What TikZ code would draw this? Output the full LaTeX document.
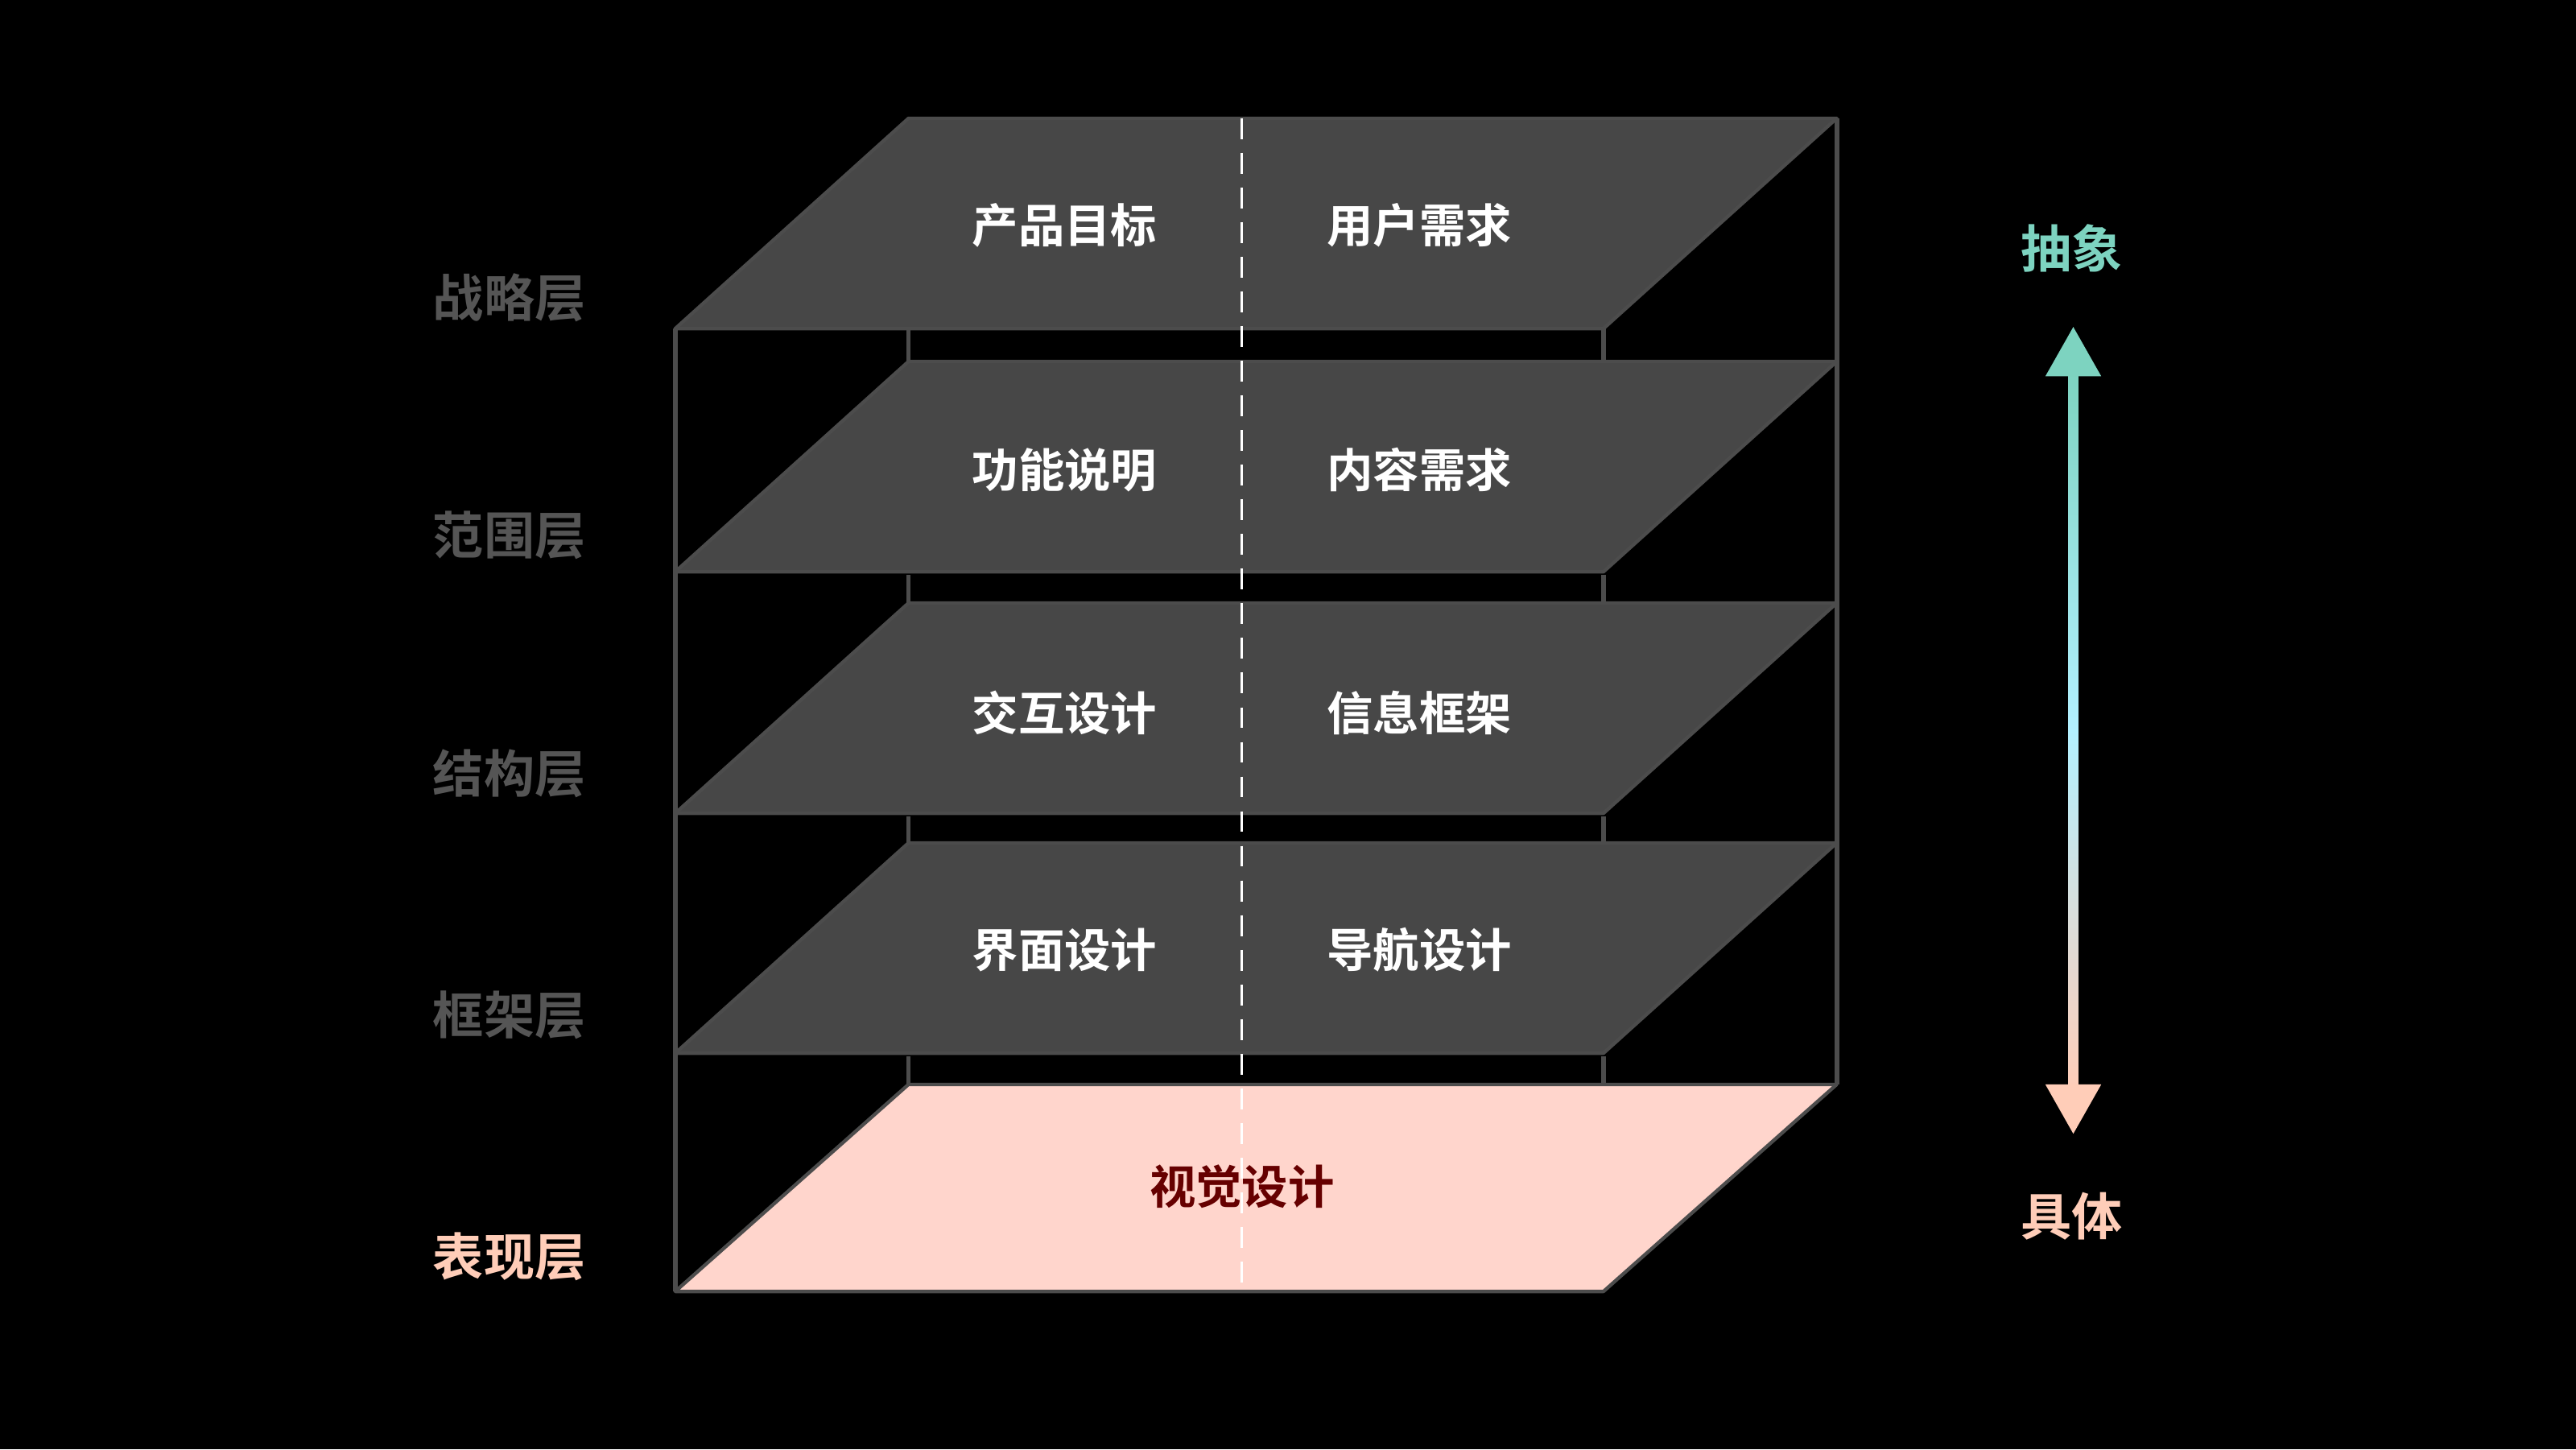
\documentclass[tikz,border=0pt]{standalone}
\usepackage{fontspec}
\newfontfamily\cjk{Noto Sans CJK SC Bold}
\begin{document}
\begin{tikzpicture}[x=0.1cm,y=-0.1cm,
  frame/.style={draw=black!70!white,line width=8pt},
  plane/.style={fill=pl,draw=black!70!white,line width=6pt,line join=round},
  pt/.style={font=\cjk\fontsize{80}{80}\selectfont,text=white},
  side/.style={font=\cjk\fontsize{88}{88}\selectfont,text=lab}]
\definecolor{pl}{HTML}{474747}
\definecolor{lab}{HTML}{555555}
\definecolor{pk}{HTML}{FFD5CC}
\definecolor{tl}{HTML}{7DD3C0}
\fill[black] (0,0) rectangle (1568,882);
\useasboundingbox (0,0) rectangle (1568,882);
% frame
\coordinate (fl) at (411,200); \coordinate (flb) at (411,786);
\coordinate (br) at (1118,72); \coordinate (brb) at (1118,660);
\draw[frame] (fl) -- (flb);
\draw[frame] (br) -- (brb);
\foreach \y in {200,350,497,643}{
  \draw[frame] (553,\y) -- (553,\y+20);
  \draw[frame] (976,\y) -- (976,\y+20);
}
% planes
\foreach \t/\n in {72/p1,220/p2,367/p3,513/p4}{
  \draw[plane] (553,\t) -- (1118,\t) -- (976,\t+128) -- (411,\t+128) -- cycle;
}
\draw[plane,fill=pk] (553,660) -- (1118,660) -- (976,786) -- (411,786) -- cycle;
\coordinate (dt) at (756,72); \coordinate (db) at (756,786);
\draw[white,line width=4pt,dash pattern=on 36pt off 24pt] (dt) -- (db);
% plane texts
\node[pt] (a1) at (648,137) {产品目标}; \node[pt] (b1) at (864,137) {用户需求};
\node[pt] (a2) at (648,286) {功能说明}; \node[pt] (b2) at (864,286) {内容需求};
\node[pt] (a3) at (648,434) {交互设计}; \node[pt] (b3) at (864,434) {信息框架};
\node[pt] (a4) at (648,578) {界面设计}; \node[pt] (b4) at (864,578) {导航设计};
\node[pt,text=red!40!black] (v) at (756,722) {视觉设计};
% side labels
\node[side] (l1) at (310,181) {战略层};
\node[side] (l2) at (310,326) {范围层};
\node[side] (l3) at (310,471) {结构层};
\node[side] (l4) at (310,618) {框架层};
\node[side,text=pk!90!orange] (l5) at (310,765) {表现层};
% right
\node[side,text=tl] (abs) at (1261,151) {抽象};
\node[side,text=pk!90!orange] (con) at (1261,740) {具体};
\shade[top color=tl,bottom color=pk!90!orange,middle color=blue!20!cyan!30!white] (1259,225) rectangle (1265,665);
\fill[tl] (1262,199) -- (1279,229) -- (1245,229) -- cycle;
\fill[pk!90!orange] (1262,690) -- (1279,660) -- (1245,660) -- cycle;
\end{tikzpicture}
\end{document}
